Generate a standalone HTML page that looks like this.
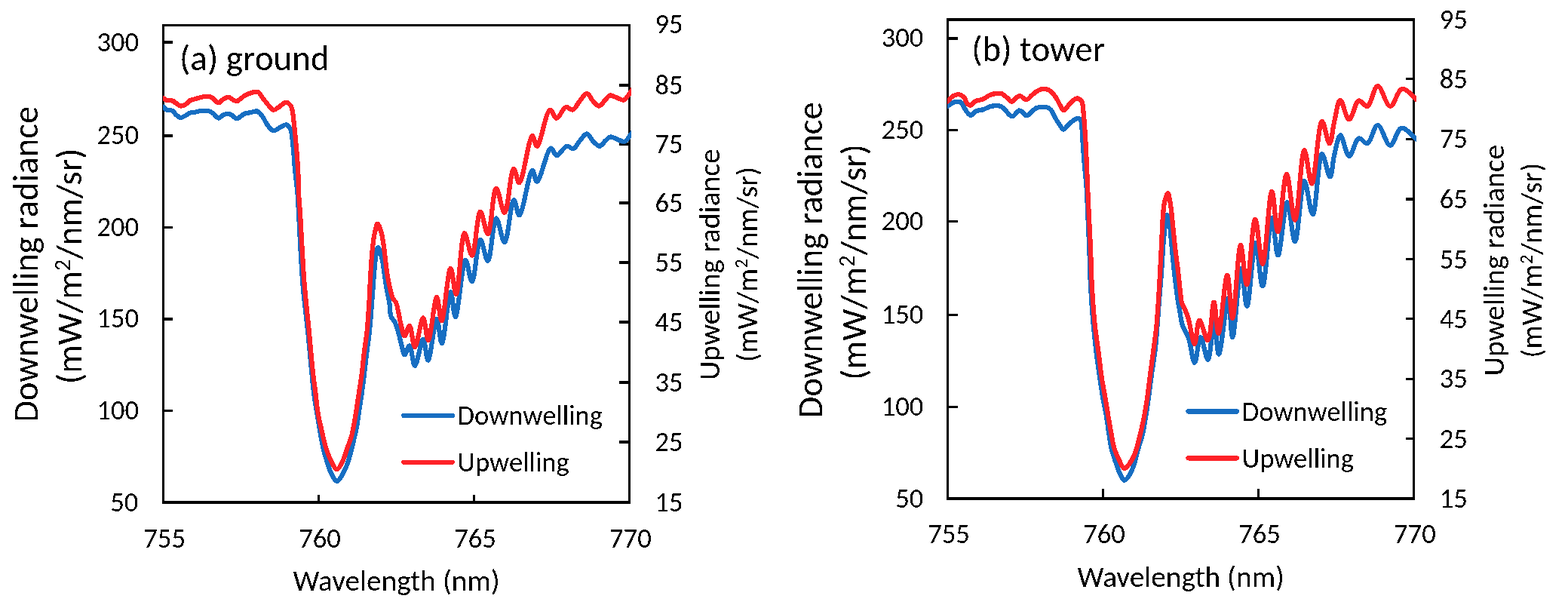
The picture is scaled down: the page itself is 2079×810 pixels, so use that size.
<!DOCTYPE html><html><head><meta charset="utf-8"><style>html,body{margin:0;padding:0;background:#fff;}svg{display:block;}text{font-family:Carlito, 'Liberation Sans', sans-serif;fill:#000;}</style></head><body>
<svg width="2079" height="810" viewBox="0 0 2079 810">
<rect width="2079" height="810" fill="#fff"/>
<defs><filter id="bin" x="0" y="0" width="100%" height="100%" filterUnits="userSpaceOnUse" color-interpolation-filters="sRGB"><feComponentTransfer><feFuncA type="discrete" tableValues="0 1"/></feComponentTransfer></filter></defs>
<g filter="url(#bin)">
<clipPath id="ca"><rect x="216" y="0" width="621" height="810"/></clipPath>
<rect x="215" y="32" width="3" height="636" fill="#000"/>
<rect x="833" y="32" width="3" height="636" fill="#000"/>
<rect x="215" y="32" width="621" height="3" fill="#000"/>
<rect x="215" y="664" width="621" height="4" fill="#000"/>
<line x1="216.6" y1="56.0" x2="229" y2="56.0" stroke="#000" stroke-width="3.4"/>
<line x1="216.6" y1="179.9" x2="229" y2="179.9" stroke="#000" stroke-width="3.4"/>
<line x1="216.6" y1="301.5" x2="229" y2="301.5" stroke="#000" stroke-width="3.4"/>
<line x1="216.6" y1="422.9" x2="229" y2="422.9" stroke="#000" stroke-width="3.4"/>
<line x1="216.6" y1="544.5" x2="229" y2="544.5" stroke="#000" stroke-width="3.4"/>
<line x1="834.4" y1="113" x2="821" y2="113" stroke="#000" stroke-width="3.4"/>
<line x1="834.4" y1="191" x2="821" y2="191" stroke="#000" stroke-width="3.4"/>
<line x1="834.4" y1="269" x2="821" y2="269" stroke="#000" stroke-width="3.4"/>
<line x1="834.4" y1="348" x2="821" y2="348" stroke="#000" stroke-width="3.4"/>
<line x1="834.4" y1="427" x2="821" y2="427" stroke="#000" stroke-width="3.4"/>
<line x1="834.4" y1="507" x2="821" y2="507" stroke="#000" stroke-width="3.4"/>
<line x1="834.4" y1="586" x2="821" y2="586" stroke="#000" stroke-width="3.4"/>
<line x1="422.5" y1="665.9" x2="422.5" y2="656" stroke="#000" stroke-width="3"/>
<line x1="628.5" y1="665.9" x2="628.5" y2="656" stroke="#000" stroke-width="3"/>
<g clip-path="url(#ca)" fill="none" stroke-width="6.2" stroke-linejoin="round">
<path d="M214.00,140.50 C214.73,140.83 215.40,140.97 216.20,141.50 C217.42,142.31 218.54,144.42 220.30,145.30 C222.45,146.38 226.34,145.60 228.50,146.80 C230.41,147.86 231.20,150.16 232.90,151.60 C234.73,153.15 237.03,155.44 239.20,155.70 C241.24,155.95 243.45,154.46 245.50,153.50 C247.65,152.49 249.62,150.50 251.80,149.70 C253.83,148.96 255.79,149.09 258.10,148.70 C260.92,148.22 264.35,147.23 267.50,147.00 C270.65,146.77 274.24,146.52 277.00,147.30 C279.41,147.98 281.28,149.43 283.30,150.90 C285.49,152.49 287.43,156.43 289.60,156.60 C291.64,156.76 293.73,153.51 295.90,152.50 C297.93,151.55 300.13,150.46 302.20,150.60 C304.33,150.75 306.54,152.36 308.50,153.50 C310.40,154.60 311.72,157.24 313.80,157.30 C316.64,157.38 320.61,152.20 324.10,150.80 C327.19,149.56 330.54,149.48 333.50,148.90 C336.14,148.39 338.74,146.84 341.00,147.50 C343.44,148.22 345.43,151.02 347.50,153.60 C350.16,156.92 352.23,162.85 355.00,166.30 C357.31,169.18 359.77,172.90 362.50,173.30 C365.12,173.69 368.14,170.44 371.00,169.10 C373.84,167.77 377.20,164.77 379.60,165.30 C381.89,165.81 383.79,168.64 385.20,171.70 C387.51,176.71 387.56,186.02 388.50,194.20 C389.62,203.94 390.17,215.61 391.20,226.30 C392.23,237.01 393.93,248.90 394.70,258.40 C395.32,265.96 395.28,269.45 395.80,278.80 C396.95,299.37 399.10,348.37 401.50,377.50 C403.41,400.73 406.33,421.48 408.20,440.00 C409.70,454.81 410.70,466.67 412.00,480.00 C413.30,493.33 414.44,507.64 416.00,520.00 C417.36,530.74 418.77,539.04 420.60,550.00 C422.83,563.37 425.99,583.01 428.60,594.40 C430.26,601.65 431.75,606.50 433.50,612.00 C435.07,616.96 436.27,621.67 438.50,626.00 C440.69,630.26 443.81,637.77 446.70,637.80 C449.82,637.83 453.86,629.31 456.60,624.20 C459.60,618.62 461.64,611.71 463.60,605.40 C465.52,599.21 466.78,593.13 468.30,586.70 C469.91,579.89 471.65,572.85 473.00,565.60 C474.41,558.00 475.32,549.93 476.50,542.10 C477.68,534.27 478.96,526.79 480.10,518.60 C481.34,509.66 482.56,499.13 483.60,490.50 C484.49,483.13 485.08,477.58 486.00,470.00 C487.15,460.54 488.85,449.14 490.00,438.10 C491.24,426.24 492.12,413.44 493.10,401.10 C494.08,388.77 494.94,375.11 495.90,364.10 C496.68,355.20 497.20,346.62 498.30,340.00 C499.08,335.28 499.95,328.13 501.10,328.00 C501.95,327.91 503.13,331.62 504.00,334.00 C505.17,337.19 505.98,340.61 507.00,345.60 C508.80,354.42 510.81,372.40 512.60,382.60 C513.87,389.84 515.32,394.91 516.30,401.10 C517.28,407.25 516.78,414.97 518.50,419.60 C519.69,422.80 522.01,423.98 523.50,427.00 C525.48,431.02 527.01,436.89 528.50,442.00 C530.02,447.22 531.08,453.03 532.50,458.00 C533.76,462.42 534.80,470.25 536.50,470.40 C538.25,470.55 540.95,458.08 542.90,458.30 C545.66,458.61 547.35,484.75 550.10,484.80 C553.29,484.86 558.10,449.38 561.10,449.50 C563.75,449.60 565.10,477.62 567.50,477.60 C570.84,477.58 575.77,422.99 579.10,423.00 C581.65,423.00 583.38,455.14 585.80,455.10 C589.31,455.04 594.12,387.23 597.50,387.20 C599.85,387.18 601.36,420.02 603.80,420.00 C607.49,419.98 612.65,345.07 617.20,344.80 C620.03,344.63 623.01,373.33 625.80,373.20 C629.65,373.01 632.72,317.99 636.90,317.70 C639.94,317.49 643.77,346.22 646.80,346.00 C651.01,345.70 653.56,289.60 657.90,289.30 C661.23,289.07 665.55,321.61 669.00,321.40 C673.49,321.13 677.16,265.27 681.20,265.00 C683.68,264.83 685.79,285.49 688.60,285.40 C693.35,285.24 701.18,226.17 705.80,225.90 C708.15,225.76 709.39,240.70 712.00,240.70 C716.53,240.70 725.20,196.96 730.50,196.30 C733.19,195.97 734.87,205.91 737.90,206.20 C741.60,206.55 747.23,194.64 751.50,193.80 C754.53,193.21 757.55,197.71 760.20,197.00 C763.35,196.15 765.64,190.15 768.60,186.90 C771.60,183.61 775.12,177.28 778.10,177.40 C780.97,177.51 783.29,184.13 786.20,186.90 C788.95,189.52 792.23,193.81 795.00,193.70 C797.65,193.60 800.03,189.00 802.50,186.90 C804.79,184.96 806.71,181.93 809.30,181.50 C812.09,181.04 815.62,183.88 818.80,184.90 C821.95,185.91 825.48,188.45 828.30,187.60 C831.48,186.64 834.33,180.51 836.50,178.00 C837.91,176.37 838.83,175.33 840.00,174.00" stroke="#176EC2"/>
<path d="M214.00,129.50 C214.73,129.60 215.40,129.48 216.20,129.80 C217.41,130.29 218.59,132.16 220.30,132.80 C222.48,133.62 226.27,132.73 228.50,133.50 C230.29,134.12 231.30,135.35 232.90,136.40 C234.81,137.65 237.02,140.17 239.20,140.50 C241.23,140.81 243.51,139.77 245.50,138.70 C247.74,137.50 249.56,134.52 251.80,133.30 C253.79,132.21 256.00,132.03 258.10,131.40 C260.20,130.77 262.07,130.05 264.40,129.50 C267.20,128.84 270.98,127.92 273.80,127.90 C276.11,127.89 278.22,128.03 280.10,128.90 C282.03,129.80 283.53,132.00 285.20,133.30 C286.69,134.46 288.01,136.42 289.60,136.40 C291.52,136.37 293.68,133.01 295.90,131.70 C298.08,130.42 300.64,128.48 302.80,128.60 C304.82,128.72 306.60,131.06 308.50,132.00 C310.26,132.87 311.81,134.33 313.80,134.10 C316.75,133.76 320.64,128.78 324.10,126.90 C327.21,125.21 330.41,123.97 333.50,123.10 C336.33,122.30 339.59,120.81 341.90,121.70 C344.28,122.62 345.49,126.27 347.50,128.80 C349.81,131.72 352.42,135.31 355.00,138.20 C357.43,140.91 359.76,145.31 362.50,145.70 C365.12,146.07 368.18,142.66 371.00,141.00 C373.88,139.30 377.01,135.40 379.60,135.60 C381.97,135.79 384.40,138.35 386.00,141.20 C388.53,145.71 388.55,154.37 389.60,162.10 C390.89,171.64 391.87,183.49 392.80,194.20 C393.73,204.89 394.63,215.59 395.20,226.30 C395.77,236.99 395.70,248.91 396.20,258.40 C396.60,265.97 397.08,269.49 397.70,278.80 C399.05,299.02 401.21,346.09 403.50,375.00 C405.39,398.80 408.31,422.98 409.90,440.00 C410.93,451.01 411.45,458.14 412.30,467.20 C413.15,476.24 413.99,485.26 415.00,494.30 C416.02,503.36 417.27,512.43 418.40,521.50 C419.53,530.57 420.31,540.00 421.80,548.70 C423.19,556.85 425.11,564.49 426.90,572.20 C428.65,579.72 430.20,587.60 432.40,594.40 C434.35,600.44 436.49,606.22 439.10,611.10 C441.35,615.32 444.15,622.19 446.70,622.20 C449.25,622.21 452.24,615.34 454.40,611.10 C456.87,606.25 458.26,599.87 460.20,594.40 C462.09,589.08 464.22,584.72 465.90,578.70 C468.06,570.94 469.71,560.59 471.30,551.50 C472.88,542.45 474.03,533.36 475.40,524.30 C476.77,515.26 478.28,506.43 479.50,497.20 C480.76,487.61 481.60,477.62 482.80,467.80 C484.00,457.92 485.63,448.56 486.70,438.10 C487.89,426.46 488.63,413.44 489.40,401.10 C490.17,388.77 490.52,376.44 491.30,364.10 C492.08,351.74 492.94,337.22 494.10,327.00 C494.92,319.75 495.65,313.96 496.90,308.50 C497.92,304.03 499.17,296.57 500.60,296.50 C502.06,296.43 504.27,303.99 505.60,308.50 C507.19,313.93 507.81,319.75 508.90,327.00 C510.44,337.22 511.85,353.89 513.50,364.10 C514.67,371.35 515.83,377.00 517.20,382.60 C518.36,387.34 519.37,392.31 521.00,395.60 C522.15,397.92 523.88,398.64 525.00,401.00 C526.63,404.46 527.43,410.24 528.50,415.00 C529.60,419.90 530.20,425.00 531.50,430.00 C532.84,435.16 534.55,445.38 536.50,445.50 C538.37,445.62 540.93,431.62 542.90,431.80 C545.62,432.05 547.37,459.86 550.10,459.90 C553.31,459.94 558.02,421.31 561.10,421.40 C563.78,421.48 565.36,451.13 567.80,451.10 C571.17,451.06 575.84,394.11 579.10,394.10 C581.51,394.09 583.15,425.44 585.50,425.40 C588.99,425.34 593.70,355.98 597.40,355.90 C600.00,355.84 602.35,390.09 604.80,390.00 C608.55,389.85 611.19,309.44 615.90,309.00 C618.81,308.73 622.76,338.80 625.80,338.60 C629.99,338.32 632.71,280.88 636.90,280.60 C639.94,280.40 643.78,310.41 646.80,310.20 C651.04,309.90 653.47,250.14 657.90,249.80 C661.20,249.55 665.58,282.12 669.00,281.90 C673.53,281.61 676.95,223.85 681.10,223.50 C683.53,223.30 685.76,242.64 688.50,242.50 C693.39,242.25 701.02,180.58 705.80,180.20 C708.10,180.02 709.56,193.90 712.00,193.80 C716.50,193.61 723.73,146.58 729.30,145.70 C732.22,145.24 734.74,156.75 737.90,156.80 C741.60,156.86 746.00,143.08 750.20,142.00 C753.21,141.22 756.59,146.37 759.40,145.60 C762.85,144.66 765.42,137.59 768.60,133.90 C771.67,130.34 775.12,123.68 778.10,123.80 C780.98,123.91 783.34,130.99 786.20,133.90 C788.80,136.54 791.73,140.82 794.40,140.70 C797.17,140.57 799.99,135.11 802.50,132.60 C804.68,130.42 806.09,127.09 808.60,126.50 C811.40,125.84 815.58,128.83 818.80,129.90 C821.68,130.85 824.43,133.32 827.00,132.60 C830.26,131.68 833.62,124.89 836.00,122.00 C837.62,120.04 838.67,118.67 840.00,117.00" stroke="#FE2228"/>
</g>
<text x="184.13000000000002" y="67.512" font-size="36.6" text-anchor="end" textLength="55.7" lengthAdjust="spacingAndGlyphs">300</text>
<text x="184.13000000000002" y="191.412" font-size="36.6" text-anchor="end" textLength="55.7" lengthAdjust="spacingAndGlyphs">250</text>
<text x="184.13000000000002" y="313.012" font-size="36.6" text-anchor="end" textLength="55.7" lengthAdjust="spacingAndGlyphs">200</text>
<text x="184.13000000000002" y="434.412" font-size="36.6" text-anchor="end" textLength="55.7" lengthAdjust="spacingAndGlyphs">150</text>
<text x="184.13000000000002" y="556.012" font-size="36.6" text-anchor="end" textLength="55.7" lengthAdjust="spacingAndGlyphs">100</text>
<text x="183.43" y="677.9119999999999" font-size="36.6" text-anchor="end" textLength="37.1" lengthAdjust="spacingAndGlyphs">50</text>
<text x="868.521" y="43.612" font-size="36.6" text-anchor="start" textLength="37.1" lengthAdjust="spacingAndGlyphs">95</text>
<text x="868.521" y="125.012" font-size="36.6" text-anchor="start" textLength="37.1" lengthAdjust="spacingAndGlyphs">85</text>
<text x="868.521" y="203.012" font-size="36.6" text-anchor="start" textLength="37.1" lengthAdjust="spacingAndGlyphs">75</text>
<text x="868.521" y="281.012" font-size="36.6" text-anchor="start" textLength="37.1" lengthAdjust="spacingAndGlyphs">65</text>
<text x="868.521" y="360.012" font-size="36.6" text-anchor="start" textLength="37.1" lengthAdjust="spacingAndGlyphs">55</text>
<text x="868.521" y="439.012" font-size="36.6" text-anchor="start" textLength="37.1" lengthAdjust="spacingAndGlyphs">45</text>
<text x="868.521" y="519.012" font-size="36.6" text-anchor="start" textLength="37.1" lengthAdjust="spacingAndGlyphs">35</text>
<text x="868.521" y="598.012" font-size="36.6" text-anchor="start" textLength="37.1" lengthAdjust="spacingAndGlyphs">25</text>
<text x="868.521" y="677.9119999999999" font-size="36.6" text-anchor="start" textLength="37.1" lengthAdjust="spacingAndGlyphs">15</text>
<text x="218.1" y="725.9" font-size="36.6" text-anchor="middle" textLength="55.7" lengthAdjust="spacingAndGlyphs">755</text>
<text x="424.0" y="725.9" font-size="36.6" text-anchor="middle" textLength="55.7" lengthAdjust="spacingAndGlyphs">760</text>
<text x="630.0" y="725.9" font-size="36.6" text-anchor="middle" textLength="55.7" lengthAdjust="spacingAndGlyphs">765</text>
<text x="835.9" y="725.9" font-size="36.6" text-anchor="middle" textLength="55.7" lengthAdjust="spacingAndGlyphs">770</text>
<text x="388.4035" y="783" font-size="39.3" text-anchor="start" textLength="274.4" lengthAdjust="spacingAndGlyphs">Wavelength (nm)</text>
<text x="50" y="559.869" font-size="46.7" text-anchor="start" transform="rotate(-90 50 559.869)" textLength="419.1" lengthAdjust="spacingAndGlyphs">Downwelling radiance</text>
<text x="108" y="509.3" font-size="46.7" textLength="312.9" lengthAdjust="spacingAndGlyphs" transform="rotate(-90 108 509.3)">(mW/m<tspan font-size="29.9" dy="-14.9">2</tspan><tspan dy="14.9">/nm/sr)</tspan></text>
<text x="953.9" y="503.965" font-size="39.5" text-anchor="start" transform="rotate(-90 953.9 503.965)" textLength="306.7" lengthAdjust="spacingAndGlyphs">Upwelling radiance</text>
<text x="1004" y="479.9" font-size="39.5" textLength="258.7" lengthAdjust="spacingAndGlyphs" transform="rotate(-90 1004 479.9)">(mW/m<tspan font-size="25.3" dy="-12.6">2</tspan><tspan dy="12.6">/nm/sr)</tspan></text>
<line x1="535.3" y1="550.9" x2="599.8" y2="550.9" stroke="#176EC2" stroke-width="6.2" stroke-linecap="round"/>
<line x1="535.3" y1="612.8" x2="599.8" y2="612.8" stroke="#FE2228" stroke-width="6.2" stroke-linecap="round"/>
<text x="606.538" y="563" font-size="36.6" text-anchor="start" textLength="192.5" lengthAdjust="spacingAndGlyphs">Downwelling</text>
<text x="606.538" y="625.1" font-size="36.6" text-anchor="start" textLength="148.2" lengthAdjust="spacingAndGlyphs">Upwelling</text>
<clipPath id="cb"><rect x="1256" y="0" width="622" height="810"/></clipPath>
<rect x="1255" y="24" width="3" height="639" fill="#000"/>
<rect x="1873" y="24" width="3" height="639" fill="#000"/>
<rect x="1255" y="24" width="621" height="4" fill="#000"/>
<rect x="1255" y="659" width="621" height="4" fill="#000"/>
<line x1="1256.5" y1="50.9" x2="1270" y2="50.9" stroke="#000" stroke-width="3.4"/>
<line x1="1256.5" y1="172.5" x2="1270" y2="172.5" stroke="#000" stroke-width="3.4"/>
<line x1="1256.5" y1="293.8" x2="1270" y2="293.8" stroke="#000" stroke-width="3.4"/>
<line x1="1256.5" y1="417.3" x2="1270" y2="417.3" stroke="#000" stroke-width="3.4"/>
<line x1="1256.5" y1="539.2" x2="1270" y2="539.2" stroke="#000" stroke-width="3.4"/>
<line x1="1874.4" y1="104.8" x2="1864" y2="104.8" stroke="#000" stroke-width="3.4"/>
<line x1="1874.4" y1="184.4" x2="1864" y2="184.4" stroke="#000" stroke-width="3.4"/>
<line x1="1874.4" y1="264" x2="1864" y2="264" stroke="#000" stroke-width="3.4"/>
<line x1="1874.4" y1="343.5" x2="1864" y2="343.5" stroke="#000" stroke-width="3.4"/>
<line x1="1874.4" y1="422.7" x2="1864" y2="422.7" stroke="#000" stroke-width="3.4"/>
<line x1="1874.4" y1="502.2" x2="1864" y2="502.2" stroke="#000" stroke-width="3.4"/>
<line x1="1874.4" y1="581.7" x2="1864" y2="581.7" stroke="#000" stroke-width="3.4"/>
<line x1="1462.5" y1="660.9" x2="1462.5" y2="648" stroke="#000" stroke-width="3"/>
<line x1="1668.5" y1="660.9" x2="1668.5" y2="648" stroke="#000" stroke-width="3"/>
<g clip-path="url(#cb)" fill="none" stroke-width="6.2" stroke-linejoin="round">
<path d="M1254.00,142.40 C1254.77,141.93 1255.34,141.63 1256.30,141.00 C1258.03,139.87 1260.66,136.94 1263.40,136.00 C1266.39,134.97 1271.06,134.12 1273.70,135.50 C1276.37,136.89 1277.17,141.55 1279.30,144.40 C1281.51,147.36 1284.17,152.64 1286.80,152.90 C1289.19,153.14 1291.50,148.47 1294.30,147.20 C1297.13,145.92 1300.62,146.29 1303.70,145.30 C1306.89,144.28 1309.56,141.85 1313.10,141.10 C1317.24,140.22 1323.58,139.68 1327.20,141.10 C1330.09,142.23 1331.44,145.12 1333.80,147.20 C1336.41,149.51 1339.38,154.33 1342.20,154.30 C1345.11,154.27 1348.52,146.96 1351.00,146.50 C1352.50,146.22 1353.59,147.18 1355.00,148.00 C1356.96,149.14 1359.10,153.28 1361.30,153.30 C1363.68,153.32 1366.47,149.02 1368.80,147.20 C1370.79,145.65 1371.98,143.90 1374.40,143.00 C1377.72,141.77 1384.11,141.34 1387.50,142.10 C1389.89,142.64 1391.52,143.59 1393.20,145.30 C1395.46,147.60 1396.79,152.28 1398.80,155.70 C1400.85,159.18 1403.30,163.14 1405.40,166.00 C1407.03,168.21 1408.30,171.52 1410.10,171.60 C1412.27,171.69 1414.73,166.44 1417.60,164.10 C1420.78,161.50 1425.70,157.19 1428.50,156.90 C1430.11,156.74 1431.45,157.11 1432.50,158.50 C1435.08,161.91 1434.39,175.15 1435.20,184.20 C1436.11,194.30 1436.70,205.60 1437.60,216.30 C1438.50,227.00 1439.86,237.84 1440.60,248.40 C1441.32,258.66 1441.48,267.35 1442.00,278.80 C1442.68,293.65 1443.63,313.08 1444.30,330.00 C1444.96,346.61 1445.13,362.94 1446.00,379.40 C1446.87,395.87 1448.11,413.09 1449.50,428.80 C1450.78,443.17 1452.36,457.41 1453.90,470.00 C1455.21,480.69 1456.55,489.73 1458.00,499.60 C1459.45,509.50 1461.03,520.30 1462.60,529.30 C1463.91,536.83 1465.16,541.78 1466.60,550.00 C1468.70,562.00 1470.83,582.49 1473.60,594.40 C1475.52,602.65 1477.90,608.95 1480.00,615.00 C1481.69,619.86 1483.07,624.19 1485.00,628.00 C1486.67,631.29 1488.43,636.49 1490.60,636.70 C1492.84,636.92 1496.19,631.96 1498.30,628.70 C1500.73,624.95 1502.09,620.19 1503.80,615.10 C1505.89,608.89 1507.55,600.90 1509.50,594.00 C1511.39,587.31 1513.64,581.45 1515.30,574.30 C1517.23,565.99 1518.67,555.24 1520.00,547.00 C1521.09,540.21 1521.81,535.46 1522.80,528.40 C1524.10,519.09 1525.53,506.74 1527.00,496.00 C1528.46,485.35 1530.35,474.85 1531.60,464.20 C1532.85,453.52 1533.63,442.72 1534.50,432.00 C1535.36,421.32 1535.94,411.19 1536.80,400.00 C1537.75,387.64 1539.06,373.83 1540.00,361.00 C1540.92,348.51 1541.47,335.24 1542.40,324.00 C1543.18,314.56 1543.98,305.13 1545.00,298.00 C1545.72,292.97 1546.39,285.29 1547.40,285.20 C1548.15,285.13 1549.24,288.83 1550.00,292.00 C1551.59,298.68 1552.18,313.02 1553.30,324.10 C1554.51,335.99 1555.60,348.78 1557.00,361.10 C1558.40,373.44 1560.30,388.96 1561.70,398.10 C1562.53,403.52 1563.15,406.29 1564.00,411.00 C1565.04,416.72 1565.86,424.76 1567.50,430.00 C1568.73,433.95 1570.50,436.67 1572.00,440.00 C1573.50,443.33 1575.02,445.66 1576.50,450.00 C1579.02,457.37 1581.39,480.80 1583.90,480.80 C1586.52,480.80 1588.85,447.23 1591.90,447.10 C1594.79,446.98 1598.86,477.01 1601.60,476.80 C1605.10,476.53 1607.22,426.48 1609.70,426.50 C1611.99,426.52 1613.45,469.57 1616.00,469.60 C1619.35,469.63 1625.25,395.52 1628.40,395.60 C1631.01,395.67 1631.86,446.98 1634.20,447.00 C1637.31,447.02 1642.11,356.05 1645.70,356.00 C1648.37,355.97 1650.60,406.02 1653.30,406.00 C1656.81,405.97 1660.91,321.55 1664.70,321.50 C1667.84,321.46 1670.90,379.54 1674.10,379.50 C1678.10,379.45 1682.56,288.75 1686.40,288.70 C1689.25,288.66 1691.47,338.48 1694.50,338.50 C1698.10,338.52 1702.68,268.35 1706.70,268.30 C1710.16,268.26 1713.61,320.17 1717.00,320.10 C1721.20,320.01 1724.81,240.11 1729.40,239.90 C1732.84,239.74 1737.07,284.46 1740.50,284.30 C1745.07,284.09 1747.77,204.56 1752.80,204.10 C1755.97,203.81 1760.63,234.69 1763.40,234.50 C1766.09,234.31 1766.88,214.26 1769.30,204.80 C1771.57,195.91 1774.19,179.43 1777.30,179.30 C1780.60,179.16 1784.50,206.76 1788.70,207.00 C1792.68,207.23 1796.77,184.85 1801.70,183.50 C1805.11,182.56 1809.32,190.92 1812.80,190.00 C1817.91,188.65 1821.80,166.07 1826.70,166.00 C1831.93,165.92 1837.89,192.76 1843.30,192.80 C1848.34,192.84 1852.14,170.78 1858.10,169.70 C1863.74,168.67 1873.69,181.11 1877.80,184.40 C1879.75,185.96 1880.60,186.80 1882.00,188.00" stroke="#176EC2"/>
<path d="M1254.00,135.80 C1254.77,135.30 1255.37,135.04 1256.30,134.30 C1258.07,132.90 1260.76,129.02 1263.40,127.50 C1265.83,126.10 1268.89,124.87 1271.40,125.20 C1273.89,125.53 1276.61,127.47 1278.40,129.40 C1280.22,131.36 1280.63,135.13 1282.20,136.90 C1283.42,138.27 1284.85,139.77 1286.40,139.70 C1288.47,139.61 1290.73,135.43 1293.40,134.10 C1296.17,132.72 1299.76,132.96 1302.80,131.70 C1306.03,130.36 1309.15,127.36 1312.20,126.10 C1314.76,125.04 1317.11,124.52 1319.70,124.20 C1322.40,123.86 1325.51,123.33 1328.10,124.20 C1330.84,125.12 1333.29,128.07 1335.60,129.90 C1337.65,131.52 1339.33,134.59 1341.30,134.60 C1343.39,134.62 1345.74,130.71 1347.80,129.40 C1349.43,128.36 1350.74,127.02 1352.50,127.10 C1354.90,127.22 1358.12,132.39 1360.80,132.20 C1363.56,132.01 1365.98,127.73 1368.80,125.60 C1371.76,123.36 1374.91,120.32 1378.20,119.10 C1381.17,117.99 1384.75,117.52 1387.50,118.10 C1389.98,118.62 1392.06,120.13 1394.10,121.90 C1396.52,124.00 1398.71,127.26 1400.70,130.30 C1402.80,133.50 1404.54,137.80 1406.30,140.70 C1407.63,142.89 1408.51,146.15 1410.10,146.30 C1412.09,146.49 1415.19,141.22 1417.60,138.80 C1419.85,136.53 1422.00,133.61 1424.10,132.20 C1425.60,131.19 1426.99,130.22 1428.50,130.40 C1430.31,130.61 1432.73,132.18 1434.10,134.40 C1436.30,137.99 1436.03,145.31 1436.80,152.10 C1437.83,161.20 1438.53,173.50 1439.20,184.20 C1439.87,194.90 1440.32,205.60 1440.80,216.30 C1441.28,227.00 1441.64,237.85 1442.10,248.40 C1442.54,258.67 1442.96,267.35 1443.50,278.80 C1444.20,293.66 1445.28,313.08 1446.00,330.00 C1446.71,346.61 1446.88,362.94 1447.80,379.40 C1448.72,395.88 1449.88,413.10 1451.50,428.80 C1452.98,443.18 1455.29,457.40 1456.90,470.00 C1458.27,480.68 1459.14,489.74 1460.60,499.60 C1462.07,509.51 1464.19,520.29 1465.70,529.30 C1466.96,536.82 1467.91,542.98 1469.10,550.00 C1470.34,557.27 1471.62,564.81 1473.00,572.20 C1474.38,579.61 1475.33,587.62 1477.40,594.40 C1479.25,600.46 1481.94,606.33 1484.40,611.10 C1486.38,614.95 1488.29,620.78 1490.60,621.10 C1492.61,621.38 1495.13,617.72 1497.20,615.10 C1499.93,611.64 1502.47,606.97 1504.70,601.50 C1507.70,594.13 1509.99,583.39 1512.20,574.30 C1514.39,565.29 1516.36,555.43 1517.90,547.20 C1519.18,540.38 1519.96,535.51 1521.00,528.40 C1522.36,519.13 1523.70,507.00 1525.10,496.30 C1526.50,485.60 1528.02,474.90 1529.40,464.20 C1530.78,453.50 1532.33,442.81 1533.40,432.10 C1534.46,421.41 1535.05,411.22 1535.80,400.00 C1536.63,387.66 1537.39,373.91 1538.10,361.10 C1538.79,348.61 1539.37,336.44 1540.00,324.10 C1540.63,311.74 1541.07,297.31 1541.90,287.00 C1542.50,279.61 1542.74,273.60 1544.00,268.00 C1545.05,263.36 1547.04,255.55 1548.30,255.60 C1549.54,255.65 1550.62,263.40 1551.50,268.00 C1552.58,273.63 1553.06,279.61 1553.90,287.00 C1555.07,297.31 1556.22,311.75 1557.60,324.10 C1558.98,336.45 1560.86,349.52 1562.20,361.10 C1563.38,371.32 1564.36,382.46 1565.30,390.00 C1565.91,394.87 1565.90,398.48 1567.00,402.00 C1567.94,405.02 1569.69,406.97 1571.00,410.00 C1572.63,413.77 1574.15,417.62 1575.80,423.00 C1578.38,431.41 1581.46,455.95 1583.90,455.90 C1586.27,455.85 1587.23,424.91 1590.30,424.60 C1593.22,424.31 1598.60,451.47 1601.60,451.10 C1605.60,450.60 1607.09,400.49 1609.50,400.50 C1611.68,400.51 1613.14,441.99 1615.50,442.00 C1618.73,442.01 1623.94,364.65 1627.20,364.70 C1630.00,364.74 1631.69,422.01 1634.20,422.00 C1637.46,421.98 1641.25,325.28 1644.90,325.20 C1647.59,325.14 1650.30,377.54 1653.10,377.50 C1656.70,377.45 1660.34,290.67 1664.20,290.60 C1667.39,290.54 1670.84,349.96 1674.10,349.90 C1678.24,349.82 1682.52,253.54 1686.30,253.50 C1689.13,253.47 1691.37,307.29 1694.30,307.30 C1697.79,307.31 1701.89,231.26 1705.90,231.20 C1709.49,231.15 1713.46,291.79 1717.00,291.70 C1721.37,291.59 1724.92,199.29 1729.40,199.10 C1732.53,198.97 1735.99,243.69 1739.30,243.60 C1743.79,243.47 1747.70,161.32 1752.80,160.90 C1755.91,160.64 1760.04,190.66 1762.80,190.50 C1765.54,190.35 1766.89,170.20 1769.30,160.40 C1771.64,150.91 1773.75,132.85 1777.00,132.60 C1780.23,132.35 1784.57,158.39 1788.70,158.50 C1792.81,158.61 1796.75,134.77 1801.70,133.50 C1805.11,132.62 1809.35,141.79 1812.80,140.90 C1818.00,139.56 1821.68,114.19 1826.70,114.00 C1831.83,113.81 1837.73,140.87 1843.30,141.00 C1848.54,141.12 1853.01,118.83 1859.10,117.80 C1864.65,116.87 1873.80,128.65 1877.80,131.70 C1879.71,133.16 1880.60,133.90 1882.00,135.00" stroke="#FE2228"/>
</g>
<text x="1224.33" y="62.412" font-size="36.6" text-anchor="end" textLength="55.7" lengthAdjust="spacingAndGlyphs">300</text>
<text x="1224.33" y="184.012" font-size="36.6" text-anchor="end" textLength="55.7" lengthAdjust="spacingAndGlyphs">250</text>
<text x="1224.33" y="305.312" font-size="36.6" text-anchor="end" textLength="55.7" lengthAdjust="spacingAndGlyphs">200</text>
<text x="1224.33" y="428.812" font-size="36.6" text-anchor="end" textLength="55.7" lengthAdjust="spacingAndGlyphs">150</text>
<text x="1224.33" y="550.712" font-size="36.6" text-anchor="end" textLength="55.7" lengthAdjust="spacingAndGlyphs">100</text>
<text x="1224.4299999999998" y="672.9119999999999" font-size="36.6" text-anchor="end" textLength="37.1" lengthAdjust="spacingAndGlyphs">50</text>
<text x="1908.721" y="38.412" font-size="36.6" text-anchor="start" textLength="37.1" lengthAdjust="spacingAndGlyphs">95</text>
<text x="1908.721" y="116.812" font-size="36.6" text-anchor="start" textLength="37.1" lengthAdjust="spacingAndGlyphs">85</text>
<text x="1908.721" y="196.412" font-size="36.6" text-anchor="start" textLength="37.1" lengthAdjust="spacingAndGlyphs">75</text>
<text x="1908.721" y="276.012" font-size="36.6" text-anchor="start" textLength="37.1" lengthAdjust="spacingAndGlyphs">65</text>
<text x="1908.721" y="355.512" font-size="36.6" text-anchor="start" textLength="37.1" lengthAdjust="spacingAndGlyphs">55</text>
<text x="1908.721" y="434.712" font-size="36.6" text-anchor="start" textLength="37.1" lengthAdjust="spacingAndGlyphs">45</text>
<text x="1908.721" y="514.212" font-size="36.6" text-anchor="start" textLength="37.1" lengthAdjust="spacingAndGlyphs">35</text>
<text x="1908.721" y="593.712" font-size="36.6" text-anchor="start" textLength="37.1" lengthAdjust="spacingAndGlyphs">25</text>
<text x="1908.721" y="672.9119999999999" font-size="36.6" text-anchor="start" textLength="37.1" lengthAdjust="spacingAndGlyphs">15</text>
<text x="1258.0" y="720.4" font-size="36.6" text-anchor="middle" textLength="55.7" lengthAdjust="spacingAndGlyphs">755</text>
<text x="1464.0" y="720.4" font-size="36.6" text-anchor="middle" textLength="55.7" lengthAdjust="spacingAndGlyphs">760</text>
<text x="1670.0" y="720.4" font-size="36.6" text-anchor="middle" textLength="55.7" lengthAdjust="spacingAndGlyphs">765</text>
<text x="1875.9" y="720.4" font-size="36.6" text-anchor="middle" textLength="55.7" lengthAdjust="spacingAndGlyphs">770</text>
<text x="1428.6035000000002" y="777.5" font-size="39.3" text-anchor="start" textLength="274.4" lengthAdjust="spacingAndGlyphs">Wavelength (nm)</text>
<text x="1090.2" y="554.369" font-size="46.7" text-anchor="start" transform="rotate(-90 1090.2 554.369)" textLength="419.1" lengthAdjust="spacingAndGlyphs">Downwelling radiance</text>
<text x="1148.2" y="503.8" font-size="46.7" textLength="312.9" lengthAdjust="spacingAndGlyphs" transform="rotate(-90 1148.2 503.8)">(mW/m<tspan font-size="29.9" dy="-14.9">2</tspan><tspan dy="14.9">/nm/sr)</tspan></text>
<text x="1994.1" y="498.465" font-size="39.5" text-anchor="start" transform="rotate(-90 1994.1 498.465)" textLength="306.7" lengthAdjust="spacingAndGlyphs">Upwelling radiance</text>
<text x="2044.2" y="474.4" font-size="39.5" textLength="258.7" lengthAdjust="spacingAndGlyphs" transform="rotate(-90 2044.2 474.4)">(mW/m<tspan font-size="25.3" dy="-12.6">2</tspan><tspan dy="12.6">/nm/sr)</tspan></text>
<line x1="1575.5" y1="545.4" x2="1640.0" y2="545.4" stroke="#176EC2" stroke-width="6.2" stroke-linecap="round"/>
<line x1="1575.5" y1="607.3" x2="1640.0" y2="607.3" stroke="#FE2228" stroke-width="6.2" stroke-linecap="round"/>
<text x="1646.7380000000003" y="557.5" font-size="36.6" text-anchor="start" textLength="192.5" lengthAdjust="spacingAndGlyphs">Downwelling</text>
<text x="1646.7380000000003" y="619.6" font-size="36.6" text-anchor="start" textLength="148.2" lengthAdjust="spacingAndGlyphs">Upwelling</text>
<text x="238.0675" y="92.9" font-size="47.1" text-anchor="start" textLength="198.7" lengthAdjust="spacingAndGlyphs">(a) ground</text>
<text x="1288.1675" y="80.7" font-size="47.1" text-anchor="start" textLength="177.0" lengthAdjust="spacingAndGlyphs">(b) tower</text>
</g>
</svg></body></html>
